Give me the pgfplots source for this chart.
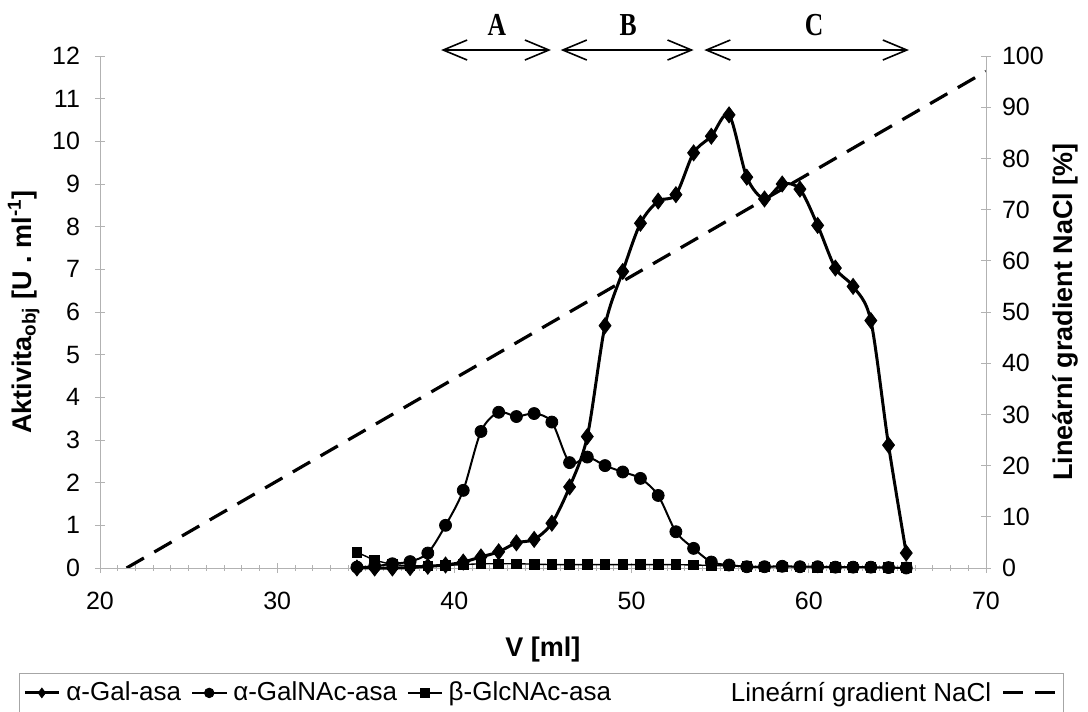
\documentclass[border=0pt]{standalone}
\usepackage{fontspec}
\setmainfont{Liberation Sans}
\newfontfamily\abcfont[FakeStretch=0.8]{Liberation Serif}
\usepackage{pgfplots}
\usepackage{pgfplotstable}
\pgfplotsset{compat=1.18}
\usetikzlibrary{arrows.meta}

% V [ml], alpha-Gal-asa, alpha-GalNAc-asa, beta-GlcNAc-asa
\pgfplotstableread{
V     gal    galnac  glcnac
34.5  0.00   0.02    0.37
35.5  0.00   0.04    0.18
36.5  0.00   0.10    0.08
37.5  0.01   0.15    0.05
38.5  0.04   0.35    0.05
39.5  0.07   1.00    0.06
40.5  0.14   1.82    0.08
41.5  0.26   3.20    0.10
42.5  0.38   3.65    0.10
43.5  0.59   3.55    0.10
44.5  0.67   3.62    0.09
45.5  1.05   3.42    0.08
46.5  1.90   2.47    0.08
47.5  3.08   2.60    0.08
48.5  5.68   2.40    0.08
49.5  6.95   2.25    0.08
50.5  8.08   2.10    0.08
51.5  8.60   1.70    0.08
52.5  8.75   0.85    0.08
53.5  9.73   0.46    0.07
54.5  10.12  0.14    0.06
55.5  10.62  0.07    0.05
56.5  9.16   0.03    0.04
57.5  8.65   0.03    0.03
58.5  9.00   0.04    0.03
59.5  8.88   0.03    0.03
60.5  8.03   0.03    0.02
61.5  7.03   0.02    0.02
62.5  6.60   0.02    0.02
63.5  5.80   0.02    0.01
64.5  2.88   0.01    0.01
65.5  0.35   0.00    0.01
}\enzymy

\pgfplotsset{
  spolecne/.style={
    scale only axis, width=443pt, height=256pt,
    xmin=20, xmax=70,
    /pgf/number format/assume math mode=true,
    ticklabel style={font=\fontsize{12.5}{14}\selectfont},
    axis line style={gray!60, line width=0.4pt},
    tick style={gray!60, line width=0.4pt},
    tick align=center,
    major tick length=5pt, minor tick length=3pt,
  }
}

\begin{document}
\begin{tikzpicture}
\path[use as bounding box] (-50pt,-72pt) rectangle (494pt,284pt);

\begin{axis}[
  spolecne,
  ymin=0, ymax=12,
  xtick={20,30,...,70}, ytick={0,1,...,12},
  minor x tick num=9,
  axis x line*=bottom, axis y line*=left,
  clip=false,
  yticklabel style={xshift=-4pt},
  xticklabel style={yshift=-6pt},
  xlabel={\textbf{V [ml]}},
  ylabel={\textbf{Aktivita\textsubscript{obj} [U . ml\textsuperscript{-1}]}},
  every axis x label/.style={at={(axis description cs:0.5,-0.16)}, anchor=center, font=\fontsize{13.5}{15}\selectfont},
  every axis y label/.style={at={(axis description cs:-0.086,0.5)}, anchor=center, rotate=90, font=\fontsize{13.5}{15}\selectfont},
  legend columns=4,
  legend image post style={mark size=2.4pt},
  legend style={at={(axis description cs:0.498,-0.244)}, anchor=center,
    draw=gray!70, line width=0.4pt, font=\fontsize{13}{15}\selectfont,
    inner xsep=2pt, inner ysep=2pt,
    /tikz/every odd column/.append style={column sep=1pt},
    /tikz/every even column/.append style={column sep=3pt}},
]
\addplot[black, line width=1.5pt, smooth, mark=diamond*, mark size=4pt,
  mark options={solid, line width=0.4pt}] table[x=V, y=gal] {\enzymy};
\addlegendentry{α-Gal-asa}
\addplot[black, line width=1.0pt, smooth, mark=*, mark size=3pt,
  mark options={solid, line width=0.4pt}] table[x=V, y=galnac] {\enzymy};
\addlegendentry{α-GalNAc-asa}
\addplot[black, line width=0.7pt, mark=square*, mark size=2.4pt,
  mark options={solid, line width=0.4pt}] table[x=V, y=glcnac] {\enzymy};
\addlegendentry{β-GlcNAc-asa}
\addlegendimage{empty legend}
\addlegendentry{\hspace*{52pt}Lineární gradient NaCl\hspace{6pt}\rule[0.5ex]{10pt}{1.5pt}\hspace{6pt}\rule[0.5ex]{10pt}{1.5pt}}

% oznaceni frakci A, B, C
\draw[line width=0.8pt, {Straight Barb[length=12pt,width=10pt]}-{Straight Barb[length=12pt,width=10pt]}]
  (axis cs:39.25,12.14) -- (axis cs:45.45,12.14);
\draw[line width=0.8pt, {Straight Barb[length=12pt,width=10pt]}-{Straight Barb[length=12pt,width=10pt]}]
  (axis cs:46.0,12.14) -- (axis cs:53.5,12.14);
\draw[line width=0.8pt, {Straight Barb[length=12pt,width=10pt]}-{Straight Barb[length=12pt,width=10pt]}]
  (axis cs:54.1,12.14) -- (axis cs:65.65,12.14);
\node[font=\abcfont\bfseries\fontsize{16}{17}\selectfont] at (axis cs:42.4,12.72) {A};
\node[font=\abcfont\bfseries\fontsize{16}{17}\selectfont] at (axis cs:49.8,12.72) {B};
\node[font=\abcfont\bfseries\fontsize{16}{17}\selectfont] at (axis cs:60.3,12.72) {C};
\end{axis}

\begin{axis}[
  spolecne,
  ymin=0, ymax=100,
  ytick={0,10,...,100},
  axis x line=none, axis y line*=right,
  yticklabel style={xshift=2pt},
  ylabel={\textbf{Lineární gradient NaCl [\%]}},
  every axis y label/.style={at={(axis description cs:1.09,0.5)}, anchor=center, rotate=90, font=\fontsize{13.5}{15}\selectfont},
]
\addplot[black, line width=1.6pt, dash pattern=on 10pt off 6pt] coordinates {(21.5,0) (70,97)};
\end{axis}
\end{tikzpicture}
\end{document}
